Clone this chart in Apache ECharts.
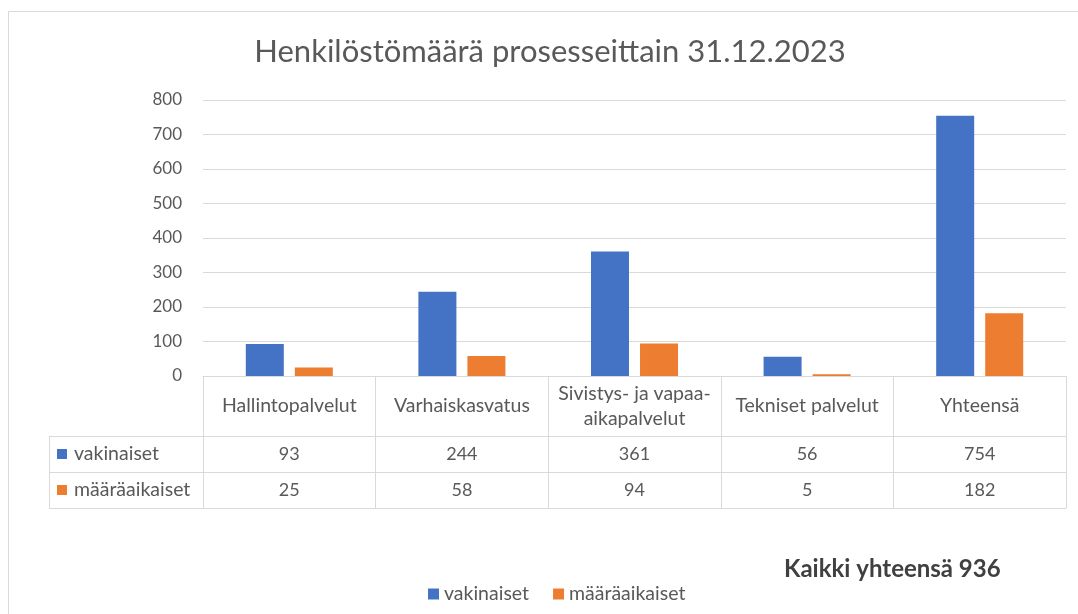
<!DOCTYPE html>
<html>
<head>
<meta charset="utf-8">
<script src="https://cdn.jsdelivr.net/npm/echarts@6/dist/echarts.min.js"></script>
<style>
  html, body { margin: 0; padding: 0; background: #fff; }
  #chart { width: 1078px; height: 614px; }
</style>
</head>
<body>
<div id="chart"></div>
<script>
// data
const categories = ['Hallintopalvelut', 'Varhaiskasvatus', 'Sivistys- ja vapaa-\naikapalvelut', 'Tekniset palvelut', 'Yhteensä'];
const seriesNames = ['vakinaiset', 'määräaikaiset'];
const vakinaiset = [93, 244, 361, 56, 754];
const maaraaikaiset = [25, 58, 94, 5, 182];
const yMin = 0, yMax = 800, yStep = 100;
const titleText = 'Henkilöstömäärä prosesseittain 31.12.2023';
const totalLabel = 'Kaikki yhteensä';

// look
const colors = ['#4472C4', '#ED7D31'];
const textColor = '#595959';
const lineColor = '#d9d9d9';
const font = 'Lato, "Open Sans", sans-serif';
const labelSize = 19.5;
const numberSize = 18;

// table layout under the plot
const gridLeft = 203, gridRight = 12, gridTop = 100, gridBottom = 238;
const tableTop = 614 - gridBottom;
const headerH = 60, rowH = 36;
const rowLabelLeft = 49;

const chart = echarts.init(document.getElementById('chart'));

const rowAxis = (data, offset, showLabel) => ({
  type: 'category',
  position: 'bottom',
  gridIndex: 0,
  offset: offset,
  data: data,
  axisLine: { show: true, lineStyle: { color: lineColor, width: 1 } },
  axisTick: { show: false },
  axisLabel: {
    show: showLabel, interval: 0, margin: rowH / 2, verticalAlign: 'middle',
    color: textColor, fontFamily: font, fontSize: numberSize
  }
});

const rows = [vakinaiset, maaraaikaiset];
const total = vakinaiset[vakinaiset.length - 1] + maaraaikaiset[maaraaikaiset.length - 1];

const graphics = [
  // outer chart frame (only top and left edges visible)
  { type: 'rect', shape: { x: 8.5, y: 11.5, width: 1200, height: 700 },
    style: { fill: null, stroke: lineColor, lineWidth: 1 }, silent: true },
  { type: 'text', x: 550, y: 52, style: { text: titleText, align: 'center', verticalAlign: 'middle',
    fill: textColor, font: '31px ' + font } },
  { type: 'text', x: 784, y: 569, style: { text: totalLabel + ' ' + total, align: 'left', verticalAlign: 'middle',
    fill: '#404040', font: 'bold 24px ' + font } },
  // row label column of the data table
  { type: 'line', shape: { x1: rowLabelLeft + 0.5, y1: tableTop + headerH, x2: rowLabelLeft + 0.5, y2: tableTop + headerH + 2 * rowH },
    style: { stroke: lineColor, lineWidth: 1 } }
];
for (let i = 0; i <= rows.length; i++) {
  const y = tableTop + headerH + i * rowH + 0.5;
  graphics.push({ type: 'line', shape: { x1: rowLabelLeft, y1: y, x2: gridLeft, y2: y },
    style: { stroke: lineColor, lineWidth: 1 } });
}
seriesNames.forEach((name, i) => {
  const cy = tableTop + headerH + i * rowH + rowH / 2;
  graphics.push({ type: 'rect', shape: { x: 57, y: cy - 5, width: 10, height: 10 }, style: { fill: colors[i] } });
  graphics.push({ type: 'text', x: 74, y: cy, style: { text: name, verticalAlign: 'middle',
    fill: textColor, font: labelSize + 'px ' + font } });
});

chart.setOption({
  backgroundColor: '#fff',
  animation: false,
  color: colors,
  grid: { left: gridLeft, right: gridRight, top: gridTop, bottom: gridBottom, containLabel: false },
  legend: {
    data: seriesNames, left: 423, top: 579, icon: 'rect', itemWidth: 11, itemHeight: 11, itemGap: 24,
    textStyle: { color: textColor, fontFamily: font, fontSize: labelSize, padding: [0, 0, 0, 0] }
  },
  xAxis: [
    {
      type: 'category',
      position: 'bottom',
      data: categories,
      axisLine: { show: true, lineStyle: { color: lineColor, width: 1 } },
      axisTick: { show: true, length: headerH + 2 * rowH, lineStyle: { color: lineColor, width: 1 } },
      axisLabel: {
        interval: 0, margin: headerH / 2, verticalAlign: 'middle', lineHeight: 25,
        color: textColor, fontFamily: font, fontSize: labelSize
      }
    },
    rowAxis(vakinaiset.map(String), headerH, true),
    rowAxis(maaraaikaiset.map(String), headerH + rowH, true),
    rowAxis(categories, headerH + 2 * rowH, false)
  ],
  yAxis: {
    type: 'value', min: yMin, max: yMax, interval: yStep,
    axisLine: { show: false }, axisTick: { show: false },
    axisLabel: { margin: 21, color: textColor, fontFamily: font, fontSize: 17 },
    splitLine: { lineStyle: { color: lineColor, width: 1 } }
  },
  series: [
    { name: seriesNames[0], type: 'bar', xAxisIndex: 0, data: vakinaiset, barWidth: 38, barGap: '29%' },
    { name: seriesNames[1], type: 'bar', xAxisIndex: 0, data: maaraaikaiset, barWidth: 38, barGap: '29%' }
  ],
  graphic: graphics
});
</script>
</body>
</html>
